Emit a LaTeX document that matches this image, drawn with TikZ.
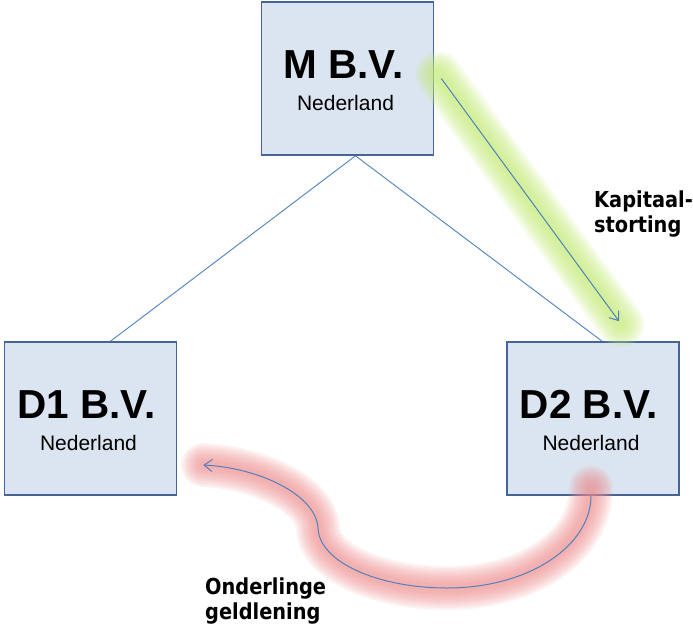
\documentclass[tikz,border=0pt]{standalone}
\usepackage{fontspec}
\setmainfont{Liberation Sans}
\newfontfamily\notefont[FakeStretch=0.88]{DejaVu Sans}
\usetikzlibrary{arrows.meta}

\definecolor{boxfill}{RGB}{219,229,241}
\definecolor{boxline}{RGB}{70,100,150}
\definecolor{linkblue}{RGB}{79,129,189}
\definecolor{glowgreen}{RGB}{196,234,120}
\definecolor{glowred}{RGB}{238,140,140}

\tikzset{
  entity/.style={draw=boxline, line width=1.6pt, fill=boxfill,
    minimum width=172pt, minimum height=153pt, inner sep=0pt},
  title/.style={anchor=base, inner sep=0pt, font=\bfseries\fontsize{40.5}{40.5}\selectfont},
  country/.style={anchor=base, inner sep=0pt, font=\fontsize{21}{21}\selectfont},
  link/.style={draw=linkblue, line width=0.9pt},
  flow/.style={draw=linkblue, line width=1pt, -{Straight Barb[length=8pt,width=12pt]}},
  note/.style={font=\notefont\bfseries\fontsize{22}{25}\selectfont, align=left,
    anchor=base west, inner sep=0pt},
}

\begin{document}
\begin{tikzpicture}[x=1pt, y=-1pt]
  \useasboundingbox (0,0) rectangle (693,629);

  % the three companies
  \node[entity] (m)  at (347.5,78.5) {};
  \node[entity] (d1) at (90.5,418.5) {};
  \node[entity] (d2) at (593,418.5) {};

  \node[title]   (mt)  at ([xshift=-4pt]m.center) {M B.V.};
  \node[country] (mc)  at ([xshift=-2pt,yshift=-32pt]m.center) {Nederland};
  \node[title]   (d1t) at ([xshift=-4pt]d1.center) {D1 B.V.};
  \node[country] (d1c) at ([xshift=-2pt,yshift=-32pt]d1.center) {Nederland};
  \node[title]   (d2t) at ([xshift=-4pt]d2.center) {D2 B.V.};
  \node[country] (d2c) at ([xshift=-2pt,yshift=-32pt]d2.center) {Nederland};

  % ownership lines
  \coordinate (top) at ([xshift=8pt]m.south);
  \draw[link] (top) -- ([xshift=20pt]d1.north);
  \draw[link] (top) -- ([xshift=9pt]d2.north);

  % end points of the two flows
  \coordinate (ks) at ([xshift=7pt]m.east);
  \coordinate (ke) at ([xshift=26pt,yshift=20pt]d2.north);
  \coordinate (ls) at ([xshift=-2pt]d2.south);
  \coordinate (le) at ([xshift=26pt,yshift=-46.5pt]d1.east);

  % soft highlight behind the capital contribution
  \foreach \w in {46,42,...,10} {
    \draw[glowgreen, line width=\w pt, opacity=0.12, line cap=round]
      ([xshift=-3pt,yshift=4pt]ks) -- ([xshift=2pt,yshift=-3pt]ke);
  }
  % soft highlight behind the intercompany loan
  \foreach \w in {44,40,...,8} {
    \draw[glowred, line width=\w pt, opacity=0.11, line cap=round]
      ([yshift=8pt]ls) .. controls (591,545) and (530,588) .. (447,588)
      .. controls (378,588) and (319,562) .. (318,528)
      .. controls (316,495) and (260,468) .. (le);
  }

  % the flows
  \draw[flow] (ks) -- (ke);
  \draw[flow] (ls) .. controls (591,545) and (530,588) .. (447,588)
      .. controls (378,588) and (319,562) .. (318,528)
      .. controls (316,495) and (260,468) .. (le);

  % labels of the flows
  \node[note] (kap) at (594,232) {Kapitaal-\\storting};
  \node[note] (ond) at (205,619) {Onderlinge\\geldlening};
\end{tikzpicture}
\end{document}
